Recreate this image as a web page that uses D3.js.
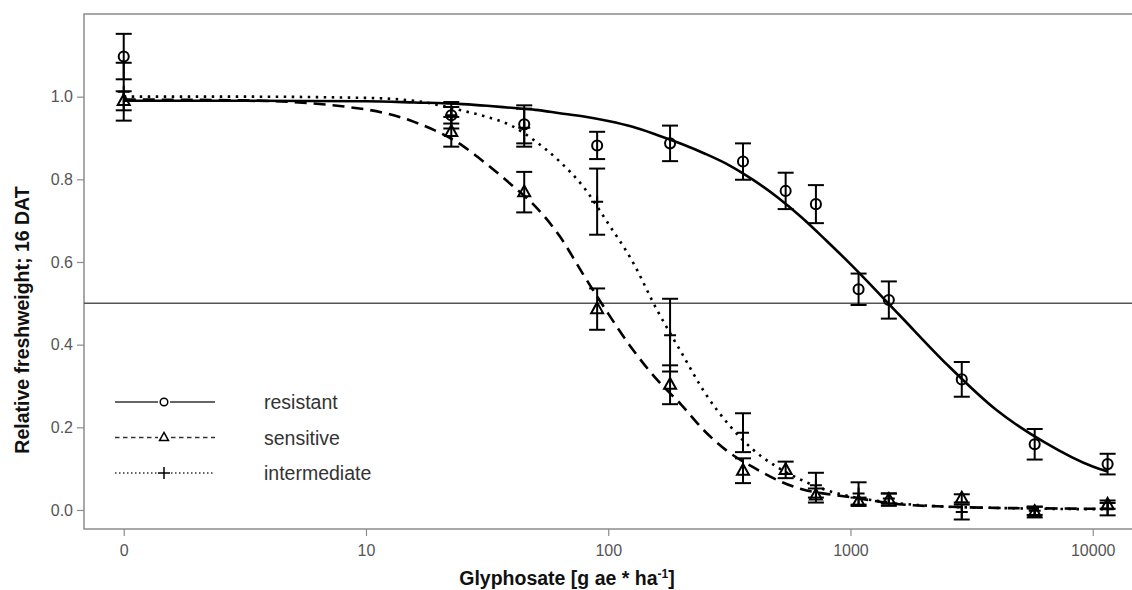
<!DOCTYPE html>
<html>
<head>
<meta charset="utf-8">
<script src="https://cdn.jsdelivr.net/npm/d3@7"></script>
<style>
  body { margin: 0; background: #fff; }
  svg { display: block; font-family: "Liberation Sans", Arial, sans-serif; }
</style>
</head>
<body>
<div id="chart"></div>
<script>
// Dose levels (g ae / ha). Dose 0 is drawn at the "0" tick, which sits at 1 on the log axis.
const doses = [0, 22.5, 45, 90, 180, 360, 540, 720, 1080, 1440, 2880, 5760, 11520];

const resistantMean = [1.097, 0.955, 0.933, 0.882, 0.887, 0.843, 0.772, 0.740, 0.534, 0.508, 0.316, 0.159, 0.111];
const resistantErr = [0.055, 0.032, 0.046, 0.033, 0.043, 0.044, 0.044, 0.046, 0.038, 0.045, 0.042, 0.037, 0.025];

const sensitiveMean = [0.990, 0.915, 0.769, 0.486, 0.303, 0.095, 0.097, 0.035, 0.020, 0.025, 0.028, -0.005, 0.013];
const sensitiveErr = [0.023, 0.036, 0.049, 0.050, 0.047, 0.030, 0.020, 0.017, 0.010, 0.015, 0.010, 0.013, 0.010];

// no intermediate sample at 540
const intermediateMean = [1.012, 0.955, 0.925, 0.746, 0.423, 0.187, null, 0.060, 0.040, 0.028, -0.005, -0.002, 0.002];
const intermediateErr = [0.070, 0.020, 0.046, 0.080, 0.088, 0.047, null, 0.030, 0.027, 0.012, 0.018, 0.010, 0.015];

// fitted dose-response curves (first dose = the "0" position)
const curveDoses = [1, 3.16, 10, 15.8, 25.1, 31.6, 39.8, 50.1, 63.1, 79.4, 100, 126, 158, 200, 251,
  316, 398, 501, 631, 794, 1000, 1585, 2512, 3981, 6310, 10000, 11520];
const resistantFit = [0.990, 0.990, 0.989, 0.986, 0.982, 0.978, 0.973, 0.968, 0.960, 0.952, 0.941, 0.927,
  0.908, 0.886, 0.862, 0.834, 0.798, 0.756, 0.707, 0.652, 0.595, 0.473, 0.351, 0.243, 0.164, 0.105, 0.093];
const sensitiveFit = [0.993, 0.991, 0.969, 0.939, 0.881, 0.836, 0.787, 0.734, 0.662, 0.567, 0.475, 0.389,
  0.317, 0.255, 0.190, 0.139, 0.103, 0.072, 0.050, 0.039, 0.031, 0.014, 0.008, 0.005, 0.004, 0.003, 0.003];
const intermediateFit = [1.000, 1.000, 0.997, 0.990, 0.966, 0.951, 0.930, 0.892, 0.843, 0.780, 0.693, 0.601,
  0.487, 0.382, 0.283, 0.205, 0.145, 0.103, 0.072, 0.048, 0.033, 0.016, 0.008, 0.005, 0.003, 0.002, 0.002];

const xTickValues = [1, 10, 100, 1000, 10000];
const xTickLabels = ['0', '10', '100', '1000', '10000'];
const yTickValues = [0, 0.2, 0.4, 0.6, 0.8, 1.0];

const width = 1132;
const height = 590;
const plot = { left: 84, top: 14, right: 1131, bottom: 529 };

const svg = d3.select('#chart').append('svg')
  .attr('width', width)
  .attr('height', height);

const x = d3.scaleLog()
  .domain([Math.pow(10, -0.164), Math.pow(10, 4.158)])
  .range([plot.left, plot.right]);
const y = d3.scaleLinear()
  .domain([-0.046, 1.2])
  .range([plot.bottom, plot.top]);

const xPos = d => x(d === 0 ? 1 : d);

// frame (its right side runs off the picture) + reference line at 0.5
svg.append('rect')
  .attr('x', plot.left).attr('y', plot.top)
  .attr('width', width + 10 - plot.left).attr('height', plot.bottom - plot.top)
  .attr('fill', 'none').attr('stroke', '#8c8c8c').attr('stroke-width', 1.5);

svg.append('line')
  .attr('x1', plot.left).attr('x2', width)
  .attr('y1', y(0.5)).attr('y2', y(0.5))
  .attr('stroke', '#555').attr('stroke-width', 1.5);

// axes
const xAxis = svg.append('g')
  .attr('transform', `translate(0,${plot.bottom})`)
  .call(d3.axisBottom(x).tickValues(xTickValues).tickSize(7).tickPadding(9)
    .tickFormat((d, i) => xTickLabels[i]));
const yAxis = svg.append('g')
  .attr('transform', `translate(${plot.left},0)`)
  .call(d3.axisLeft(y).tickValues(yTickValues).tickSize(7).tickPadding(4)
    .tickFormat(d3.format('.1f')));

[xAxis, yAxis].forEach((g) => {
  g.select('.domain').remove();
  g.selectAll('.tick line').attr('stroke', '#8c8c8c').attr('stroke-width', 1.2);
  g.selectAll('.tick text').attr('fill', '#555').style('font-size', '16px');
});

// axis titles
const xTitle = svg.append('text')
  .attr('x', 567).attr('y', 585)
  .attr('text-anchor', 'middle')
  .style('font-size', '19.5px').style('font-weight', 'bold')
  .attr('fill', '#111');
xTitle.append('tspan').text('Glyphosate [g ae * ha');
xTitle.append('tspan').attr('dy', -7).style('font-size', '12px').text('-1');
xTitle.append('tspan').attr('dy', 7).text(']');

svg.append('text')
  .attr('transform', 'translate(29,320) rotate(-90)')
  .attr('text-anchor', 'middle')
  .style('font-size', '19.5px').style('font-weight', 'bold')
  .attr('fill', '#111')
  .text('Relative freshweight; 16 DAT');

// series
const series = [
  { name: 'resistant', mean: resistantMean, err: resistantErr, fit: resistantFit, dash: null, marker: 'circle' },
  { name: 'sensitive', mean: sensitiveMean, err: sensitiveErr, fit: sensitiveFit, dash: '12,7', marker: 'triangle' },
  { name: 'intermediate', mean: intermediateMean, err: intermediateErr, fit: intermediateFit, dash: '2.5,5.5', marker: 'plus' },
];

const line = d3.line()
  .x(d => x(d[0]))
  .y(d => y(d[1]))
  .curve(d3.curveMonotoneX);

function drawMarker(g, type, size, sw) {
  if (type === 'circle') {
    g.append('circle').attr('r', size * 0.42)
      .attr('fill', 'none').attr('stroke', '#000').attr('stroke-width', sw);
  } else if (type === 'triangle') {
    const h = size * 0.9;
    g.append('path')
      .attr('d', `M0,${-h * 0.62}L${size / 2},${h * 0.38}L${-size / 2},${h * 0.38}Z`)
      .attr('fill', 'none').attr('stroke', '#000').attr('stroke-width', sw);
  } else {
    g.append('path')
      .attr('d', `M${-size / 2},0H${size / 2}M0,${-size / 2}V${size / 2}`)
      .attr('stroke', '#000').attr('stroke-width', sw);
  }
}

const curves = svg.append('g');
series.forEach((s) => {
  curves.append('path')
    .datum(curveDoses.map((d, i) => [d, s.fit[i]]))
    .attr('d', line)
    .attr('fill', 'none')
    .attr('stroke', '#000')
    .attr('stroke-width', 2.6)
    .attr('stroke-dasharray', s.dash);
});

const points = svg.append('g');
series.forEach((s) => {
  const pts = doses.map((d, i) => ({ d, m: s.mean[i], e: s.err[i] })).filter(p => p.m !== null);
  const bars = points.selectAll(null).data(pts).enter().append('g')
    .attr('stroke', '#000').attr('stroke-width', 2);
  bars.append('line')
    .attr('x1', p => xPos(p.d)).attr('x2', p => xPos(p.d))
    .attr('y1', p => y(p.m - p.e)).attr('y2', p => y(p.m + p.e));
  [1, -1].forEach((sign) => {
    bars.append('line')
      .attr('x1', p => xPos(p.d) - 8).attr('x2', p => xPos(p.d) + 8)
      .attr('y1', p => y(p.m + sign * p.e)).attr('y2', p => y(p.m + sign * p.e));
  });
  pts.forEach((p) => {
    const g = points.append('g').attr('transform', `translate(${xPos(p.d)},${y(p.m)})`);
    drawMarker(g, s.marker, 12, 2);
  });
});

// legend
const legend = svg.append('g').attr('transform', 'translate(115,402)');
series.forEach((s, i) => {
  const row = legend.append('g').attr('transform', `translate(0,${i * 35.5})`);
  row.append('line')
    .attr('x1', 0).attr('x2', 100)
    .attr('stroke', '#333').attr('stroke-width', 1.5)
    .attr('stroke-dasharray', s.dash ? (s.marker === 'triangle' ? '4.5,3.5' : '1.5,2.5') : null);
  const m = row.append('g').attr('transform', 'translate(49,0)');
  m.append('rect').attr('x', -6).attr('y', -6).attr('width', 12).attr('height', 12)
    .attr('fill', '#fff');
  drawMarker(m, s.marker, s.marker === 'plus' ? 12 : 9, 1.5);
  row.append('text')
    .attr('x', 149).attr('y', 7)
    .style('font-size', '19.5px')
    .attr('fill', '#333')
    .text(s.name);
});
</script>
</body>
</html>
